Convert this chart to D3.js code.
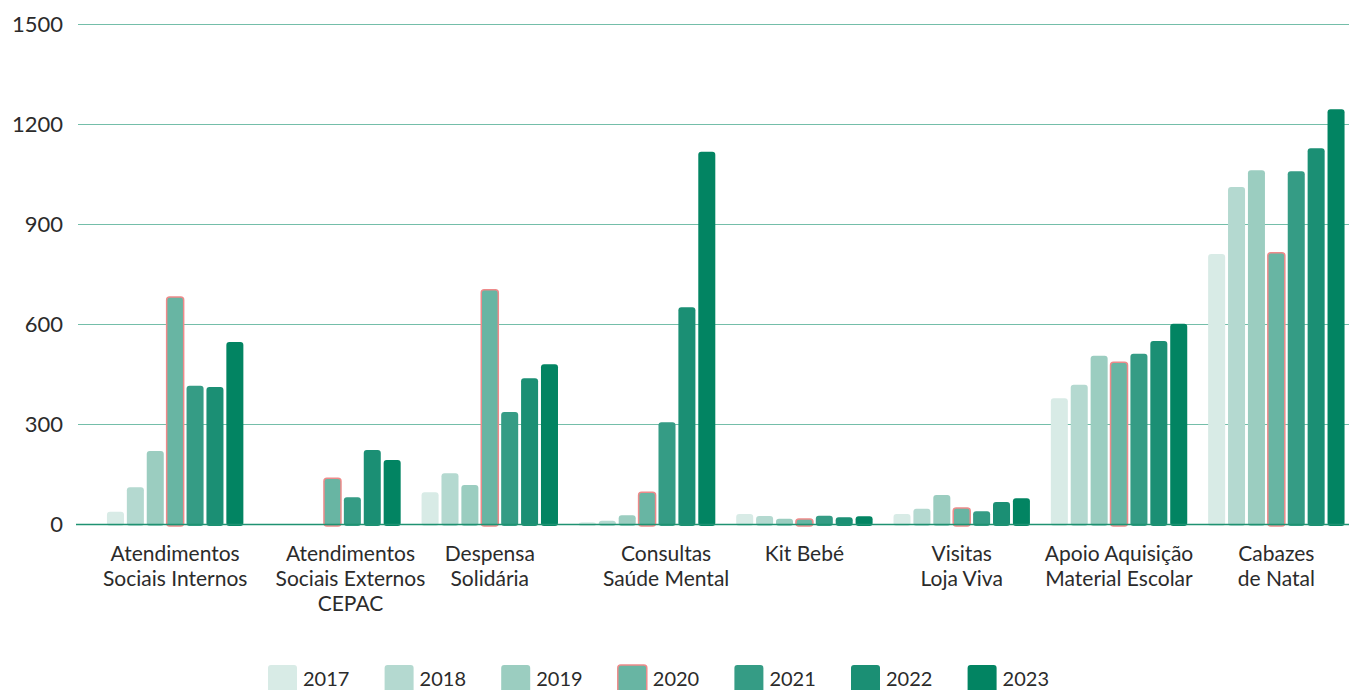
<!DOCTYPE html>
<html>
<head>
<meta charset="utf-8">
<script src="https://cdn.jsdelivr.net/npm/d3@7"></script>
<style>
  html, body { margin: 0; padding: 0; background: #fff; overflow: hidden; }
  svg { display: block; }
  text { font-family: "Lato", "Open Sans", sans-serif; fill: #2b2b2b; }
</style>
</head>
<body>
<svg id="chart" width="1349" height="690"></svg>
<script>
// ---- data ----
const categories = [
  ["Atendimentos", "Sociais Internos"],
  ["Atendimentos", "Sociais Externos", "CEPAC"],
  ["Despensa", "Solidária"],
  ["Consultas", "Saúde Mental"],
  ["Kit Bebé"],
  ["Visitas", "Loja Viva"],
  ["Apoio Aquisição", "Material Escolar"],
  ["Cabazes", "de Natal"]
];
const years = ["2017", "2018", "2019", "2020", "2021", "2022", "2023"];
const v2017 = [37, 0, 95, 5, 30, 30, 377, 810];
const v2018 = [110, 0, 152, 10, 24, 46, 418, 1011];
const v2019 = [219, 0, 117, 26, 16, 87, 505, 1061];
const v2020 = [681, 137, 703, 95, 15, 48, 485, 814];
const v2021 = [415, 80, 336, 305, 25, 38, 511, 1058];
const v2022 = [411, 222, 437, 650, 20, 66, 549, 1127];
const v2023 = [546, 192, 479, 1117, 23, 77, 601, 1244];
const yTicks = [0, 300, 600, 900, 1200, 1500];

const seriesValues = [v2017, v2018, v2019, v2020, v2021, v2022, v2023];
const colors = ["#d8ebe6", "#b4d9d0", "#9bcdc0", "#68b5a3", "#359c85", "#1b8f74", "#028462"];
const highlightYear = "2020";

// ---- layout ----
const svg = d3.select("#chart");
const catKeys = categories.map(c => c.join(" "));
const x0 = d3.scaleBand().domain(catKeys).range([96.5, 1355]).paddingInner(0).paddingOuter(0);
const x1 = d3.scaleBand().domain(years).range([0, x0.bandwidth()]).paddingInner(0.145).paddingOuter(0.525);
const y = d3.scaleLinear().domain([0, 1500]).range([524, 24]);
const labelShift = { 1: 18, 3: 19 };

// y axis labels
const yAxis = d3.axisLeft(y).tickValues(yTicks).tickSize(0).tickPadding(0).tickFormat(d3.format("d"));
const gAxis = svg.append("g").attr("transform", "translate(64,0)").call(yAxis);
gAxis.select(".domain").remove();
gAxis.selectAll("text").attr("x", -1).attr("dy", "0.36em")
  .style("font-size", "22px").style("font-family", "Lato, sans-serif").attr("fill", "#2b2b2b");

// gridlines
svg.append("g").selectAll("line").data(yTicks.filter(d => d > 0)).join("line")
  .attr("x1", 78).attr("x2", 1349)
  .attr("y1", d => y(d) + 0.5).attr("y2", d => y(d) + 0.5)
  .attr("stroke", "#74bea9").attr("stroke-width", 1.2);

// bars
const rows = [];
catKeys.forEach((c, i) => {
  years.forEach((yr, j) => {
    rows.push({ cat: c, year: yr, value: seriesValues[j][i], color: colors[j] });
  });
});

svg.append("g").selectAll("rect").data(rows.filter(d => d.value > 0)).join("rect")
  .attr("x", d => x0(d.cat) + x1(d.year))
  .attr("y", d => y(d.value))
  .attr("width", x1.bandwidth())
  .attr("height", d => y(0) - y(d.value) + 2)
  .attr("rx", 3).attr("ry", 3)
  .attr("fill", d => d.color)
  .attr("stroke", d => d.year === highlightYear ? "#ee8a8a" : "none")
  .attr("stroke-width", 1.5);

// zero baseline
svg.append("line").attr("x1", 76).attr("x2", 1349)
  .attr("y1", y(0) + 0.5).attr("y2", y(0) + 0.5)
  .attr("stroke", "#1f9272").attr("stroke-width", 1.6);

// category labels
const gLab = svg.append("g");
categories.forEach((lines, i) => {
  const cx = x0(catKeys[i]) + x0.bandwidth() / 2 + (labelShift[i] || 0);
  const t = gLab.append("text").attr("text-anchor", "middle")
    .style("font-size", "21px");
  lines.forEach((ln, k) => {
    t.append("tspan").attr("x", cx).attr("y", 561 + k * 25).text(ln);
  });
});

// legend
const legend = svg.append("g");
years.forEach((yr, j) => {
  const lx = 268 + j * 116.6;
  legend.append("rect").attr("x", lx).attr("y", 665).attr("width", 29).attr("height", 32)
    .attr("rx", 3).attr("fill", colors[j])
    .attr("stroke", yr === highlightYear ? "#ee8a8a" : "none").attr("stroke-width", 1.5);
  legend.append("text").attr("x", lx + 35).attr("y", 686).style("font-size", "20px").text(yr);
});
</script>
</body>
</html>
